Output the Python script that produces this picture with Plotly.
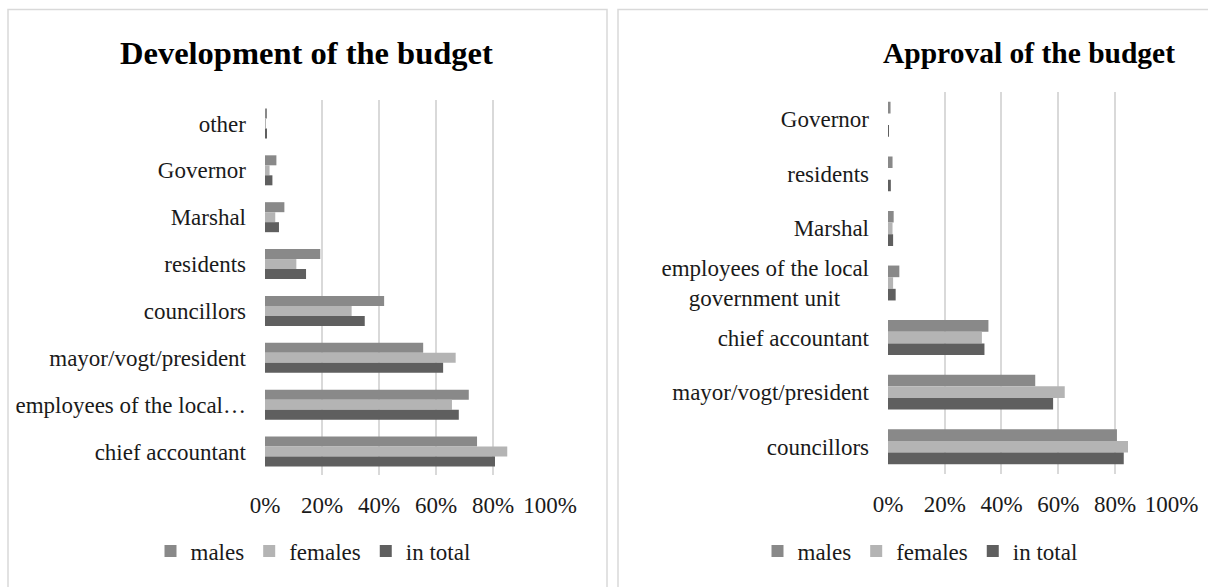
import plotly.graph_objects as go

# Development of the budget (top to bottom), values in %
dev_categories = ["other", "Governor", "Marshal", "residents", "councillors",
                  "mayor/vogt/president", "employees of the local…", "chief accountant"]
dev_males = [0.7, 4.0, 6.8, 19.4, 41.8, 55.5, 71.5, 74.4]
dev_females = [0.2, 1.6, 3.6, 11.0, 30.4, 66.9, 65.6, 85.0]
dev_total = [0.7, 2.6, 4.9, 14.4, 35.0, 62.5, 68.0, 80.7]

# Approval of the budget (top to bottom), values in %
app_categories = ["Governor", "residents", "Marshal",
                  "employees of the local<br>government unit&nbsp;&nbsp;&nbsp;&nbsp;&nbsp;",
                  "chief accountant", "mayor/vogt/president", "councillors"]
app_males = [0.9, 1.6, 2.0, 4.0, 35.4, 51.9, 80.7]
app_females = [0.0, 0.0, 1.6, 1.8, 33.1, 62.3, 84.6]
app_total = [0.3, 1.0, 1.8, 2.7, 34.0, 58.2, 83.1]

series_names = ["males", "females", "in total"]
series_colors = ["#898989", "#b4b4b4", "#5f5f5f"]
x_ticks = [0, 20, 40, 60, 80, 100]
x_tick_labels = ["0%", "20%", "40%", "60%", "80%", "100%"]

W, H = 1208, 587
FONT = "Liberation Serif, Times New Roman, serif"
TXT = "#1a1a1a"


def px(v):
    return v / W


def py(v):
    return 1 - v / H


fig = go.Figure()

for name, color, vals in zip(series_names, series_colors, [dev_males, dev_females, dev_total]):
    fig.add_trace(go.Bar(x=vals, y=dev_categories, orientation="h", name=name,
                         marker=dict(color=color, line=dict(width=0)),
                         xaxis="x", yaxis="y", legend="legend"))

for name, color, vals in zip(series_names, series_colors, [app_males, app_females, app_total]):
    fig.add_trace(go.Bar(x=vals, y=app_categories, orientation="h", name=name,
                         marker=dict(color=color, line=dict(width=0)),
                         xaxis="x2", yaxis="y2", legend="legend2"))

xcommon = dict(range=[0, 100], tickmode="array", tickvals=x_ticks, ticktext=x_tick_labels,
               showgrid=True, gridcolor="#d9d9d9", gridwidth=1.5, zeroline=False,
               showline=False, ticks="", ticklabelstandoff=14, automargin=False,
               tickfont=dict(family=FONT, size=23, color=TXT))
ycommon = dict(type="category", autorange="reversed", showgrid=False, zeroline=False,
               showline=False, ticks="", ticklabelstandoff=18, automargin=False,
               tickfont=dict(family=FONT, size=23, color=TXT))

legend_common = dict(orientation="h", xref="container", yref="container",
                     xanchor="center", yanchor="middle",
                     font=dict(family=FONT, size=23, color=TXT), itemwidth=30,
                     bgcolor="rgba(0,0,0,0)")

fig.update_layout(
    width=W, height=H,
    margin=dict(l=0, r=0, t=0, b=0, autoexpand=False),
    paper_bgcolor="white", plot_bgcolor="white",
    barmode="group", bargap=0.36, bargroupgap=0,
    xaxis=dict(domain=[px(265), px(550)], anchor="y", **xcommon),
    yaxis=dict(domain=[py(475), py(100)], anchor="x", **ycommon),
    xaxis2=dict(domain=[px(888), px(1171.7)], anchor="y2", **xcommon),
    yaxis2=dict(domain=[py(474), py(92)], anchor="x2", **ycommon),
    legend=dict(x=px(313), y=py(551), **legend_common),
    legend2=dict(x=px(920), y=py(551), **legend_common),
    showlegend=True,
)

# panel frames
fig.add_shape(type="rect", xref="paper", yref="paper",
              x0=px(8), x1=px(607), y0=-0.05, y1=py(9.5),
              line=dict(color="#d9d9d9", width=1.5), layer="below")
fig.add_shape(type="rect", xref="paper", yref="paper",
              x0=px(618), x1=1.05, y0=-0.05, y1=py(9.5),
              line=dict(color="#d9d9d9", width=1.5), layer="below")

# panel titles
fig.add_annotation(text="<b>Development of the budget</b>", xref="paper", yref="paper",
                   x=px(306), y=py(53), xanchor="center", yanchor="middle", showarrow=False,
                   font=dict(family=FONT, size=32.5, color="#000000"))
fig.add_annotation(text="<b>Approval of the budget</b>", xref="paper", yref="paper",
                   x=px(1029), y=py(53), xanchor="center", yanchor="middle", showarrow=False,
                   font=dict(family=FONT, size=29.5, color="#000000"))

fig.write_html("out.html")
